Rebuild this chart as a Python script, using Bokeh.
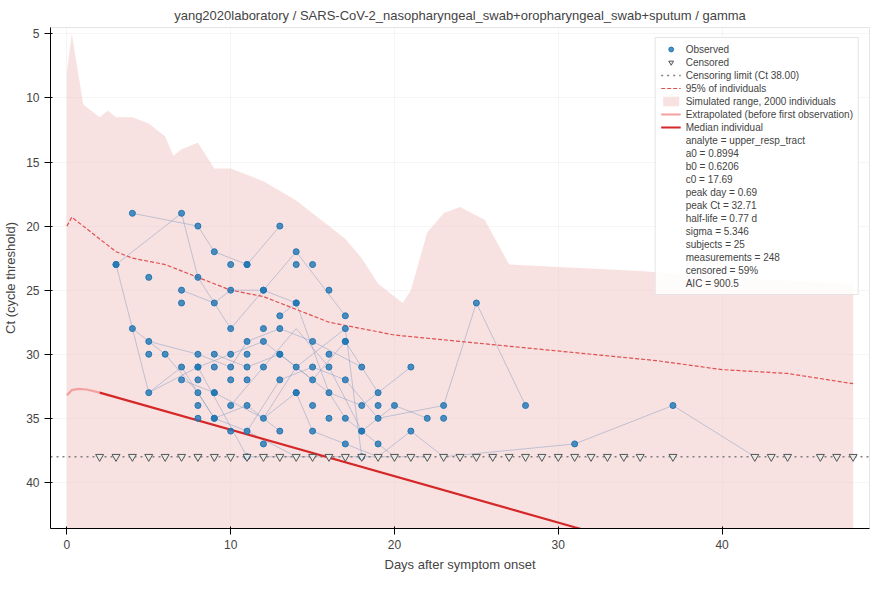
from bokeh.plotting import figure
from bokeh.models import Legend, LegendItem, Range1d
from bokeh.embed import file_html
from bokeh.resources import INLINE

obs_x = [3,3,4,4,5,5,5,5,6,7,7,7,7,7,8,8,8,8,8,8,8,8,8,9,9,9,9,9,9,9,9,
         10,10,10,10,10,10,10,10,11,11,11,11,11,11,11,11,11,12,12,12,12,12,12,12,
         13,13,13,13,13,13,13,14,14,14,14,14,14,14,15,15,15,15,15,15,16,16,16,16,16,
         17,17,17,17,17,17,17,18,18,18,18,18,19,19,19,19,20,21,21,22,23,23,25,28,31,37]
obs_y = [23,23,19,28,24,29,30,33,30,19,25,26,31,32,20,24,30,31,31,32,33,34,35,22,26,30,31,33,33,35,35,
         23,25,28,30,31,32,34,36,23,23,29,30,31,32,34,36,38,25,25,28,29,31,35,37,
         20,27,28,30,30,32,36,22,23,26,26,31,33,33,23,29,31,32,34,36,25,30,31,33,35,
         27,28,29,29,32,35,37,31,34,36,36,38,33,34,35,37,34,31,36,35,34,35,26,34,37,34]
cens_x = [2,3,4,5,6,7,8,9,10,11,12,13,14,15,16,17,18,19,20,21,22,23,24,25,26,27,28,29,30,31,32,33,34,35,37,42,43,44,46,47,48]
subj_x = [[3,7,8,10,12,14],[4,8,9,11,13],[7,9,10,12,14,17],[5,8,10,11,13,15,18],[3,5,7,9,11,14],
          [8,10,12,15,17,19],[9,11,13,16,18,21],[4,6,8,9,11,13],[10,12,14,16,18,20,22],[11,13,15,17,19,23,25,28],
          [13,14,16,17,18,20],[12,14,15,17,19,21,23,31,37,42],[7,9,12,14,17,18],[5,8,11,13,16,19,22]]
subj_y = [[23,19,24,28,25,26],[19,20,22,23,20],[25,26,25,25,22,27],[29,30,31,29,28,29,31],[23,33,31,35,36,38],
          [31,30,29,32,29,33],[30,31,30,33,34,31],[28,30,33,35,34,36],[34,31,28,31,36,34,35],[36,32,31,32,35,34,26,34],
          [27,26,33,35,36,38],[35,33,36,37,38,36,38,37,34,38],[32,33,35,31,28,38],[33,31,38,38,38,38,38]]
band_x = [0,0.3,1,2,2.5,3,4,5,6,6.5,7,8,9,10,12,14,16,17,18,19,20.5,21,22,23,24,25.5,27,30,35,40,48]
band_top = [8,5,10.5,11.5,11,11.5,11.5,12,13,14.5,14,13.5,15.5,15.5,16.5,18,20,21,22.5,24.5,26,25,20.5,19,18.5,19.5,23,23.2,23.5,24,24.5]
p95_x = [0,0.3,1,2,3,4,6,8,10,12,14,16,18,20,24,28,32,36,40,44,48]
p95_y = [20,19.3,20,21,22,22.5,23,24,25,25.5,26.5,27.5,28,28.5,29,29.5,30,30.5,31.2,31.5,32.3]
ext_x = [0,0.3,0.69,1.2,2]
ext_y = [33.2,32.8,32.7,32.75,33]
med_x = [2,31,40]
med_y = [33,43.5,46.7]
stats = ["analyte = upper_resp_tract","a0 = 0.8994","b0 = 0.6206","c0 = 17.69","peak day = 0.69",
         "peak Ct = 32.71","half-life = 0.77 d","sigma = 5.346","subjects = 25","measurements = 248",
         "censored = 59%","AIC = 900.5"]

p = figure(width=874, height=574, output_backend="svg", toolbar_location=None,
           title="yang2020laboratory / SARS-CoV-2_nasopharyngeal_swab+oropharyngeal_swab+sputum / gamma",
           x_axis_label="Days after symptom onset", y_axis_label="Ct (cycle threshold)")
p.x_range = Range1d(-1, 49)
p.y_range = Range1d(43.6, 4.5)
p.title.align = "center"; p.title.text_font_style = "normal"; p.title.text_font_size = "13px"
p.xaxis.ticker = [0,10,20,30,40]; p.yaxis.ticker = [5,10,15,20,25,30,35,40]
p.grid.grid_line_alpha = 0.4
for ax in (p.xaxis, p.yaxis):
    ax.axis_label_text_font_style = "normal"; ax.axis_label_text_font_size = "13px"
    ax.major_label_text_font_size = "12px"

band = p.varea(x=band_x, y1=band_top, y2=[50]*len(band_x), fill_color="#f2c4c4", fill_alpha=0.5)
for sx, sy in zip(subj_x, subj_y):
    p.line(sx, sy, line_color="#7a96c2", line_alpha=0.45, line_width=1)
lim = p.line([-1, 49], [38, 38], line_color="gray", line_dash="dotted", line_width=1.3)
p95 = p.line(p95_x, p95_y, line_color="#e05050", line_dash="4 2", line_width=1.2)
ext = p.line(ext_x, ext_y, line_color="#f4a0a0", line_width=2.2)
med = p.line(med_x, med_y, line_color="#d62728", line_width=2.2)
obs = p.scatter(obs_x, obs_y, size=6, fill_color="#1f77b4", line_color="#1f77b4", fill_alpha=0.8)
cen = p.scatter(cens_x, [38]*len(cens_x), marker="inverted_triangle", size=8,
                fill_color="#e8e8e8", line_color="#555555")
dummy = p.scatter([0], [0], alpha=0)

items = [LegendItem(label="Observed", renderers=[obs]), LegendItem(label="Censored", renderers=[cen]),
         LegendItem(label="Censoring limit (Ct 38.00)", renderers=[lim]),
         LegendItem(label="95% of individuals", renderers=[p95]),
         LegendItem(label="Simulated range, 2000 individuals", renderers=[band]),
         LegendItem(label="Extrapolated (before first observation)", renderers=[ext]),
         LegendItem(label="Median individual", renderers=[med])]
items += [LegendItem(label=s, renderers=[dummy]) for s in stats]
leg = Legend(items=items, location="top_right", label_text_font_size="10px", label_height=10,
             glyph_height=12, spacing=1, padding=5, border_line_color="#cccccc", background_fill_alpha=0.85)
p.add_layout(leg)
open("out.html", "w").write(file_html(p, INLINE))
